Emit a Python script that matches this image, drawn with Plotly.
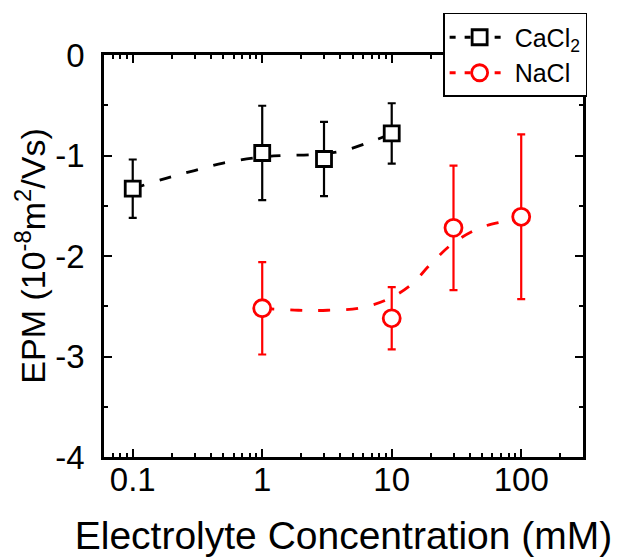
import math
import plotly.graph_objects as go

# ---- data ----
cacl2_x = [0.1, 1, 3, 10]
cacl2_y = [-1.33, -0.975, -1.035, -0.78]
cacl2_err = [0.29, 0.47, 0.37, 0.30]

nacl_x = [1, 10, 30, 100]
nacl_y = [-2.52, -2.62, -1.72, -1.61]
nacl_err = [0.46, 0.31, 0.62, 0.82]

cacl2_fit_x = [0.1, 0.2, 0.3, 0.5, 1, 1.5, 2.5, 4, 7, 10]
cacl2_fit_y = [-1.33, -1.21, -1.15, -1.075, -1.015, -1.0, -0.99, -0.96, -0.86, -0.78]

nacl_fit_x = [1, 1.9, 3.2, 5.5, 9, 14, 20, 30, 48, 77, 100]
nacl_fit_y = [-2.52, -2.54, -2.54, -2.52, -2.44, -2.29, -2.08, -1.87, -1.72, -1.65, -1.61]

x_tick_vals = [0.1, 1, 10, 100]
x_tick_text = ["0.1", "1", "10", "100"]
x_minor_vals = [0.06, 0.07, 0.08, 0.09,
                0.2, 0.3, 0.4, 0.5, 0.6, 0.7, 0.8, 0.9,
                2, 3, 4, 5, 6, 7, 8, 9,
                20, 30, 40, 50, 60, 70, 80, 90,
                200, 300]
y_tick_vals = [-4, -3, -2, -1, 0]
y_tick_text = ["-4", "-3", "-2", "-1", "0"]

BLACK = "#000000"
RED = "#FF0000"
FONT = "Liberation Sans, Arial, sans-serif"
DASH = "12px,16px"

fig = go.Figure()

# fit curves
fig.add_trace(go.Scatter(x=cacl2_fit_x, y=cacl2_fit_y, mode="lines",
                         line=dict(color=BLACK, width=2.8, dash=DASH, shape="spline"),
                         showlegend=False, hoverinfo="skip"))
fig.add_trace(go.Scatter(x=nacl_fit_x, y=nacl_fit_y, mode="lines",
                         line=dict(color=RED, width=2.8, dash=DASH, shape="spline"),
                         showlegend=False, hoverinfo="skip"))

# data with error bars
fig.add_trace(go.Scatter(x=cacl2_x, y=cacl2_y, mode="markers",
                         marker=dict(symbol="square", size=15, color="white",
                                     line=dict(width=2.8, color=BLACK)),
                         error_y=dict(type="data", array=cacl2_err, color=BLACK,
                                      thickness=2.2, width=4),
                         showlegend=False))
fig.add_trace(go.Scatter(x=nacl_x, y=nacl_y, mode="markers",
                         marker=dict(symbol="circle", size=17, color="white",
                                     line=dict(width=2.8, color=RED)),
                         error_y=dict(type="data", array=nacl_err, color=RED,
                                      thickness=2.2, width=4),
                         showlegend=False))

# legend entries
fig.add_trace(go.Scatter(x=[None], y=[None], mode="lines+markers", name="CaCl<sub>2</sub>",
                         line=dict(color=BLACK, width=2.8, dash="6px,9px"),
                         marker=dict(symbol="square", size=15, color="white",
                                     line=dict(width=2.8, color=BLACK))))
fig.add_trace(go.Scatter(x=[None], y=[None], mode="lines+markers", name="NaCl",
                         line=dict(color=RED, width=2.8, dash="6px,9px"),
                         marker=dict(symbol="circle", size=17, color="white",
                                     line=dict(width=2.8, color=RED))))

fig.update_layout(
    width=618, height=557,
    margin=dict(l=104, r=35, t=55, b=100),
    paper_bgcolor="white", plot_bgcolor="white",
    font=dict(family=FONT, color=BLACK, size=33),
    showlegend=True,
    legend=dict(x=0.708, y=1.1045, xanchor="left", yanchor="top",
                bgcolor="white", bordercolor=BLACK, borderwidth=1.5,
                font=dict(size=25, family=FONT, color=BLACK),
                itemwidth=60, tracegroupgap=0),
)

fig.update_xaxes(
    type="log", range=[math.log10(0.06), math.log10(300)],
    tickvals=x_tick_vals, ticktext=x_tick_text,
    ticks="inside", ticklen=8, tickwidth=2, tickcolor=BLACK,
    minor=dict(tickvals=x_minor_vals, ticks="inside", ticklen=4, tickwidth=2,
               tickcolor=BLACK, showgrid=False),
    showline=True, linewidth=2.5, linecolor=BLACK, mirror="ticks",
    showgrid=False, zeroline=False, automargin=False,
    tickfont=dict(size=33, family=FONT, color=BLACK),
    ticklabelstandoff=-8,
    title=dict(text="Electrolyte Concentration (mM)", standoff=28,
               font=dict(size=39, family=FONT, color=BLACK)),
)
fig.update_yaxes(
    range=[-4, 0],
    tickvals=y_tick_vals, ticktext=y_tick_text,
    ticks="inside", ticklen=8, tickwidth=2, tickcolor=BLACK,
    minor=dict(dtick=0.5, ticks="inside", ticklen=4, tickwidth=2,
               tickcolor=BLACK, showgrid=False),
    showline=True, linewidth=2.5, linecolor=BLACK, mirror="ticks",
    showgrid=False, zeroline=False, automargin=False,
    tickfont=dict(size=33, family=FONT, color=BLACK),
    ticklabelstandoff=10,
    title=dict(text="EPM (10<sup>-8</sup>m<sup>2</sup>/Vs)", standoff=0,
               font=dict(size=34, family=FONT, color=BLACK)),
)

fig.write_html("out.html")
